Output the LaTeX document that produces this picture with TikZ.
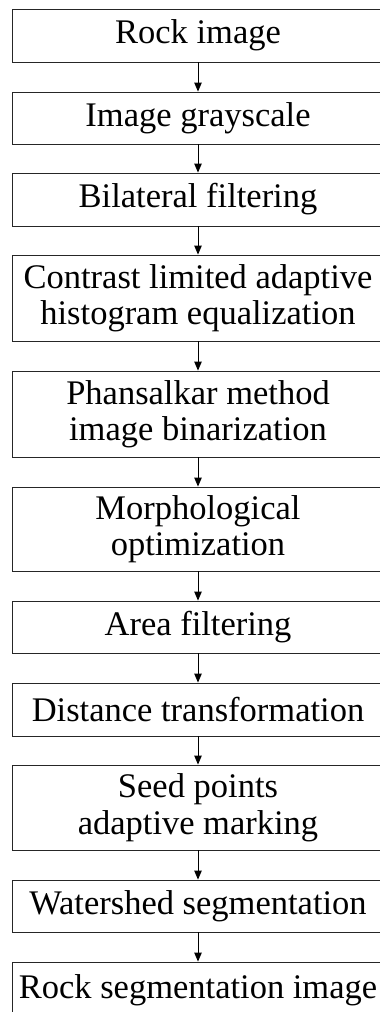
\documentclass[tikz,border=0pt]{standalone}
\usepackage{fontspec}
\setmainfont{Liberation Serif}
\usetikzlibrary{arrows.meta}
\begin{document}
\begin{tikzpicture}[x=1pt,y=-1pt,
  stepbox/.style={draw=black!85,line width=0.9pt,rectangle,minimum width=372pt,inner sep=0pt,
     align=center,font=\fontsize{34.5}{36.5}\selectfont},
  flow/.style={draw=black,line width=0.9pt,-{Triangle[length=9pt,width=7.5pt]}}]
\clip (0,0) rectangle (380,1012);
\fill[white] (0,0) rectangle (380,1012);
\node[stepbox,minimum height=53pt] (b1) at (198,35.5) {Rock image};
\node[stepbox,minimum height=52pt] (b2) at (198,118) {Image grayscale};
\node[stepbox,minimum height=53pt] (b3) at (198,199.5) {Bilateral filtering};
\node[stepbox,minimum height=86pt] (b4) at (198,298) {Contrast limited adaptive\\histogram equalization};
\node[stepbox,minimum height=86pt] (b5) at (198,414) {Phansalkar method\\image binarization};
\node[stepbox,minimum height=84pt] (b6) at (198,529) {Morphological\\optimization};
\node[stepbox,minimum height=52pt] (b7) at (198,627) {Area filtering};
\node[stepbox,minimum height=53pt] (b8) at (198,709.5) {Distance transformation};
\node[stepbox,minimum height=85pt] (b9) at (198,807.5) {Seed points\\adaptive marking};
\node[stepbox,minimum height=52pt] (b10) at (198,906) {Watershed segmentation};
\node[stepbox,minimum height=56pt] (b11) at (198,990) {Rock segmentation image};
\foreach \a/\b in {b1/b2,b2/b3,b3/b4,b4/b5,b5/b6,b6/b7,b7/b8,b8/b9,b9/b10,b10/b11}
  \draw[flow] (\a.south) -- (\b.north);
\end{tikzpicture}
\end{document}
